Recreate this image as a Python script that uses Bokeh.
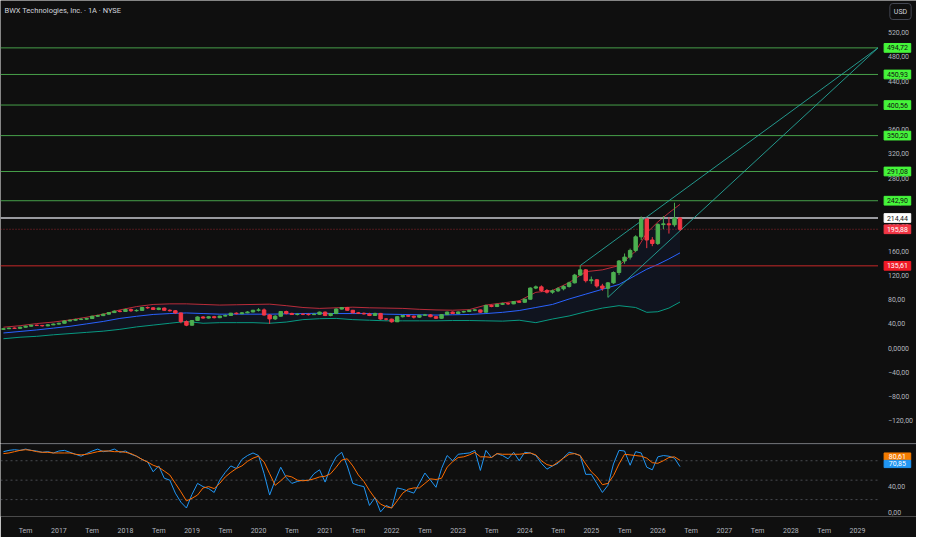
from bokeh.plotting import figure
from bokeh.layouts import column
from bokeh.models import Range1d, FixedTicker, Label, ColumnDataSource
from bokeh.core.properties import value
from bokeh.embed import file_html
from bokeh.resources import INLINE

# ---------------- data (month index: 0 = Jan 2016) ----------------
months = list(range(2, 125))  # Mar 2016 .. May 2026 monthly candles

opens = [31.0, 32.0, 33.0, 32.6, 34.5, 36.2, 37.8, 37.4, 36.8, 38.4,
         39.6, 41.0, 44.8, 46.0, 47.2, 47.8, 48.8, 52.6, 53.6, 56.0, 58.6, 61.0,
         60.4, 63.6, 61.6, 62.2, 67.0, 66.4, 63.8, 66.0, 62.4, 61.6, 58.0, 43.8,
         37.8, 45.6, 51.4, 49.6, 51.8, 50.2, 52.8, 53.8, 57.6, 56.8, 58.2, 59.6,
         62.4, 63.0, 54.6, 48.2, 52.6, 60.4, 57.2, 55.4, 56.0, 55.8, 55.2, 55.8,
         59.4, 53.8, 57.0, 64.4, 66.8, 62.4, 58.2, 57.4, 56.4, 53.8, 57.2, 48.0,
         47.8, 43.4, 51.8, 53.8, 52.6, 51.0, 54.2, 54.8, 51.8, 49.2, 55.2, 59.4,
         57.0, 59.6, 60.4, 62.4, 63.0, 59.2, 70.4, 68.6, 72.2, 73.4, 73.0, 76.8,
         75.6, 80.6, 99.0, 101.0, 95.0, 92.2, 94.4, 97.8, 101.6, 107.6, 120.4, 129.0,
         111.2, 112.6, 102.4, 98.6, 107.6, 124.6, 143.6, 150.0, 161.0, 183.4, 212.8, 178.2,
         172.4, 203.6, 204.8, 203.2, 214.4]
highs = [32.6, 33.8, 34.0, 35.2, 37.0, 38.5, 38.8, 38.2, 39.6, 40.6,
         42.0, 45.6, 47.2, 48.4, 49.6, 50.2, 53.4, 55.0, 57.0, 59.4, 62.2, 62.8,
         65.0, 65.4, 64.0, 68.0, 68.6, 67.6, 66.8, 67.0, 64.0, 62.8, 58.6, 45.6,
         46.4, 52.4, 52.8, 52.6, 53.2, 53.4, 55.6, 58.2, 59.0, 59.6, 61.0, 63.2,
         66.0, 65.4, 56.2, 54.4, 61.2, 61.8, 58.4, 57.4, 57.6, 57.2, 58.0, 60.2,
         60.4, 58.0, 65.6, 67.8, 68.0, 63.0, 59.6, 58.8, 58.2, 58.4, 58.0, 49.6,
         48.6, 52.6, 54.6, 55.0, 53.6, 55.0, 56.4, 56.2, 53.0, 56.0, 60.2, 60.4,
         60.6, 61.6, 63.0, 64.4, 63.6, 71.6, 71.8, 73.2, 75.0, 75.2, 77.6, 78.4,
         81.4, 100.2, 103.2, 103.4, 97.4, 96.6, 100.4, 103.6, 109.6, 122.4, 136.0, 130.4,
         118.0, 114.0, 106.0, 109.0, 126.4, 145.0, 156.0, 164.0, 186.0, 217.0, 214.6, 183.0,
         206.0, 217.6, 216.0, 239.6, 216.0]
lows = [30.2, 31.4, 31.8, 32.0, 34.0, 35.8, 36.4, 35.6, 36.0, 38.0,
        39.0, 40.6, 44.2, 45.2, 46.2, 47.0, 48.2, 51.6, 52.8, 55.2, 58.0, 59.0,
        59.8, 59.6, 60.2, 61.4, 64.8, 62.8, 62.6, 61.6, 60.4, 56.4, 41.0, 36.2,
        37.0, 45.0, 48.6, 48.8, 49.0, 49.4, 52.0, 53.0, 55.4, 55.8, 57.6, 59.0,
        60.4, 53.6, 40.0, 46.4, 51.8, 55.6, 54.6, 54.0, 54.4, 53.8, 54.6, 55.0,
        52.8, 52.4, 56.4, 63.6, 61.6, 57.0, 56.2, 55.2, 52.8, 53.0, 46.8, 45.6,
        42.0, 43.0, 50.4, 51.4, 48.8, 50.0, 53.0, 51.0, 48.2, 48.6, 54.6, 56.2,
        56.4, 58.4, 59.4, 60.8, 58.0, 58.6, 67.4, 67.6, 71.0, 71.2, 72.4, 74.6,
        75.0, 80.0, 97.2, 92.6, 90.0, 89.6, 92.4, 95.2, 99.8, 106.6, 119.4, 108.2,
        106.0, 99.6, 94.6, 83.6, 106.0, 120.4, 139.0, 146.0, 158.0, 178.0, 164.8, 168.0,
        170.0, 196.0, 188.8, 200.0, 193.0]
closes = [32.0, 33.0, 32.6, 34.5, 36.2, 37.8, 37.4, 36.8, 38.4, 39.6,
          41.0, 44.8, 46.0, 47.2, 47.8, 48.8, 52.6, 53.6, 56.0, 58.6, 61.0, 60.4,
          63.6, 61.6, 62.2, 67.0, 66.4, 63.8, 66.0, 62.4, 61.6, 58.0, 43.8, 37.8,
          45.6, 51.4, 49.6, 51.8, 50.2, 52.8, 53.8, 57.6, 56.8, 58.2, 59.6, 62.4,
          63.0, 54.6, 48.2, 52.6, 60.4, 57.2, 55.4, 56.0, 55.8, 55.2, 55.8, 59.4,
          53.8, 57.0, 64.4, 66.8, 62.4, 58.2, 57.4, 56.4, 53.8, 57.2, 48.0, 47.8,
          43.4, 51.8, 53.8, 52.6, 51.0, 54.2, 54.8, 51.8, 49.2, 55.2, 59.4, 57.0,
          59.6, 60.4, 62.4, 63.0, 59.2, 70.4, 68.6, 72.2, 73.4, 73.0, 76.8, 75.6,
          80.6, 99.0, 101.0, 95.0, 92.2, 94.4, 97.8, 101.6, 107.6, 120.4, 129.0, 111.2,
          112.6, 102.4, 98.6, 107.6, 124.6, 143.6, 150.0, 161.0, 183.4, 212.8, 178.2, 172.4,
          203.6, 204.8, 203.2, 214.4, 195.88]

# Bollinger bands (read at quarterly points)
band_x = [2, 5, 8, 11, 14, 17, 20, 23, 26, 29, 32, 35, 38, 41, 44, 47, 50, 53, 56, 59,
          62, 65, 68, 71, 74, 77, 80, 83, 86, 89, 92, 95, 98, 101, 104, 107, 110, 113,
          116, 118, 120, 122, 124]
band_upper = [34.5, 37, 40.5, 43, 46.5, 51, 56, 63, 68.5, 72, 73, 73, 72, 71, 71.5, 72, 72.5, 70, 67, 65.5,
              66.5, 67.5, 66.5, 66, 65.5, 64, 63, 62.5, 63.5, 71, 74.5, 78, 92, 95, 108, 126, 129, 136,
              160, 190, 208, 223, 237]
band_basis = [25, 27.5, 30, 33, 36, 40, 44, 49, 52.5, 55.5, 57, 58, 57, 56, 56, 56, 56, 56.5, 57, 57.5,
              57, 57, 57, 56, 55.5, 55, 54.5, 55, 55.5, 57, 59, 62, 67, 72, 81, 89, 97, 105,
              120, 130, 138, 147, 157]
band_lower = [15.5, 18, 19.5, 22, 24, 26, 28, 31, 35, 38, 41, 44, 41, 42, 42, 42, 41, 43, 47, 48.5,
              49, 47, 46, 45, 45, 45, 45, 45.5, 45.5, 45, 44.5, 46, 42, 48, 53, 60, 66, 70,
              67, 59, 60, 66, 76]

# Stochastic RSI
stoch_k = [94, 96, 97, 96, 98, 96, 95, 93, 94, 92,
           95, 96, 93, 90, 87, 91, 95, 98, 94, 95, 98, 93,
           95, 90, 87, 82, 78, 63, 72, 53, 50, 30, 16, 7,
           28, 45, 40, 37, 31, 50, 62, 72, 68, 82, 88, 92,
           88, 60, 27, 50, 70, 54, 45, 48, 50, 49, 60, 66,
           47, 70, 86, 93, 72, 45, 42, 40, 11, 23, 1, 11,
           7, 38, 36, 33, 30, 45, 61, 50, 39, 68, 88, 80,
           90, 91, 92, 96, 65, 96, 85, 91, 88, 83, 93, 80,
           93, 92, 88, 76, 67, 72, 76, 85, 93, 91, 88, 59,
           59, 45, 31, 42, 75, 96, 95, 73, 94, 92, 70, 66,
           86, 88, 87, 84, 70.85]
stoch_d = [91, 92, 94, 96, 97, 96, 94, 93, 93, 92,
           92, 92, 92, 90, 89, 90, 92, 94, 95, 95, 94, 94,
           93, 91, 87, 82, 78, 73, 70, 64, 58, 45, 32, 18,
           22, 27, 38, 40, 37, 45, 55, 62, 68, 72, 79, 84,
           87, 78, 60, 42, 49, 57, 55, 50, 49, 50, 52, 55,
           56, 60, 70, 81, 83, 72, 58, 48, 34, 22, 13, 9,
           7, 18, 30, 36, 38, 38, 45, 52, 51, 53, 70, 78.5,
           85, 86, 89, 93, 86, 86, 85, 91, 90, 90, 90, 90,
           91, 92, 89, 80, 74, 72, 78, 84, 90, 91, 88, 75,
           63, 55, 43, 45, 57, 75, 90, 89, 88, 87, 84, 77,
           76, 80, 85, 86, 80.61]

# drawn levels and channel
green_levels = [494.72, 450.93, 400.56, 350.20, 291.08, 242.90]
white_level = 214.44
last_price = 195.88
red_level = 135.61
channel_x0 = [106, 111]
channel_y0 = [136.0, 83.6]
channel_x1 = [159.7, 159.7]
channel_y1 = [494.72, 494.72]

price_ticks = [-120, -80, -40, 0, 40, 80, 120, 160, 200, 240, 280, 320, 360, 400, 440, 480, 520]
price_tick_labels = ["\u2212120,00", "\u221280,00", "\u221240,00", "0,0000", "40,00", "80,00", "120,00",
                     "160,00", "200,00", "240,00", "280,00", "320,00", "360,00", "400,00", "440,00",
                     "480,00", "520,00"]
date_ticks = [6, 12, 18, 24, 30, 36, 42, 48, 54, 60, 66, 72, 78, 84, 90, 96, 102, 108, 114, 120,
              126, 132, 138, 144, 150, 156]
date_tick_labels = ["Tem", "2017", "Tem", "2018", "Tem", "2019", "Tem", "2020", "Tem", "2021", "Tem",
                    "2022", "Tem", "2023", "Tem", "2024", "Tem", "2025", "Tem", "2026", "Tem", "2027",
                    "Tem", "2028", "Tem", "2029"]
osc_ticks = [0, 40]
osc_tick_labels = ["0,00", "40,00"]
osc_levels = [80, 50, 20]

# ---------------- style / geometry ----------------
BG = "#0f0f0f"
TXT = "#b2b5be"
UP = "#4caf50"
DN = "#f23645"
FONT = "Roboto"
FW = 916
MAIN_H = 443
OSC_H = 73
X0, X1 = 1.47, 166.64        # visible month span (price scale area on the right)
X_SCALE_EDGE = 159.7         # start of price scale column
X_LABEL = 161.5              # left edge of scale labels
X_TAG = 163.2                # centre of value tags
TAG_W = 4.8


def style(fig):
    fig.background_fill_color = BG
    fig.border_fill_color = BG
    fig.outline_line_color = None
    fig.xgrid.grid_line_color = None
    fig.ygrid.grid_line_color = None


x_range = Range1d(X0, X1)

p = figure(frame_width=FW, frame_height=MAIN_H, x_range=x_range, y_range=Range1d(-157.1, 572.8),
           x_axis_location=None, y_axis_location=None, toolbar_location=None,
           output_backend="svg", min_border_left=0, min_border_right=0,
           min_border_top=0, min_border_bottom=0)
style(p)

# price scale labels
p.text(x=[X_LABEL] * len(price_ticks), y=price_ticks, text=price_tick_labels,
       text_font=value(FONT), text_font_size=value("7px"), text_color=TXT,
       text_align="left", text_baseline="middle")

# Bollinger fill and lines
p.varea(x=band_x, y1=band_lower, y2=band_upper, fill_color="#2962ff", fill_alpha=0.07)
p.line(band_x, band_upper, line_color="#f23645", line_alpha=0.75, line_width=1)
p.line(band_x, band_basis, line_color="#2962ff", line_width=1)
p.line(band_x, band_lower, line_color="#089981", line_width=1)

# levels
n_g = len(green_levels)
p.segment(x0=[X0] * n_g, x1=[X_SCALE_EDGE] * n_g, y0=green_levels, y1=green_levels,
          line_color="#4caf50", line_width=1, line_alpha=0.9)
p.segment(x0=[X0], x1=[X_SCALE_EDGE], y0=[red_level], y1=[red_level],
          line_color="#c62828", line_width=1)
p.segment(x0=[X0], x1=[X_SCALE_EDGE], y0=[white_level], y1=[white_level],
          line_color="#c8cad0", line_width=1.6)
p.segment(x0=[X0], x1=[X_SCALE_EDGE], y0=[last_price], y1=[last_price],
          line_color="#f23645", line_width=1, line_alpha=0.6, line_dash="1 2")

# channel
p.segment(x0=channel_x0, y0=channel_y0, x1=channel_x1, y1=channel_y1,
          line_color="#26a69a", line_width=1, line_alpha=0.9)

# candles
colors = [UP if c >= o else DN for o, c in zip(opens, closes)]
src = ColumnDataSource(dict(x=months, o=opens, h=highs, l=lows, c=closes,
                            top=[max(o, c) for o, c in zip(opens, closes)],
                            bot=[min(o, c) for o, c in zip(opens, closes)], col=colors))
p.segment(x0="x", y0="h", x1="x", y1="l", line_color="col", line_width=1, source=src)
p.vbar(x="x", width=0.62, top="top", bottom="bot", fill_color="col", line_color="col", source=src)

# value tags on the price scale
tag_vals = green_levels + [white_level, last_price, red_level]
tag_bg = ["#45f53a"] * n_g + ["#ffffff", "#f23645", "#f01b27"]
tag_fg = ["#0f0f0f"] * n_g + ["#0f0f0f", "#ffffff", "#ffffff"]
tsrc = ColumnDataSource(dict(x=[X_TAG] * len(tag_vals), y=tag_vals,
                             t=[f"{v:.2f}".replace(".", ",") for v in tag_vals],
                             bg=tag_bg, fg=tag_fg))
p.rect(x="x", y="y", width=TAG_W, height=14.4, fill_color="bg", line_color="bg", source=tsrc)
p.text(x="x", y="y", text="t", text_color="fg", text_font=value(FONT), text_font_size=value("7px"),
       text_align="center", text_baseline="middle", source=tsrc)

# title and USD box
p.add_layout(Label(x=4, y=MAIN_H - 10, x_units="screen", y_units="screen",
                   text="BWX Technologies, Inc. \u00b7 1A \u00b7 NYSE", text_color="#d1d4dc",
                   text_font=FONT, text_font_size="7.5px", text_baseline="middle"))
p.add_layout(Label(x=900, y=MAIN_H - 11, x_units="screen", y_units="screen", text="USD",
                   text_color="#d1d4dc", text_font=FONT, text_font_size="7px",
                   text_align="center", text_baseline="middle", background_fill_color=BG,
                   border_line_color="#434651", border_radius=3, padding=4))

# ---------------- oscillator ----------------
q = figure(frame_width=FW, frame_height=OSC_H, x_range=x_range, y_range=Range1d(-6.1, 106.6),
           y_axis_location=None, toolbar_location=None, output_backend="svg",
           min_border_left=0, min_border_right=0, min_border_top=0, min_border_bottom=18)
style(q)
ax = q.xaxis[0]
ax.axis_line_color = None
ax.major_tick_line_color = None
ax.minor_tick_line_color = None
ax.major_label_text_color = TXT
ax.major_label_text_font = FONT
ax.major_label_text_font_size = "7px"
ax.major_label_standoff = 4
ax.ticker = FixedTicker(ticks=date_ticks)
ax.major_label_overrides = {t: l for t, l in zip(date_ticks, date_tick_labels)}

q.segment(x0=[X0], x1=[X1], y0=[106.0], y1=[106.0], line_color="#2a2e39", line_width=1)
n_o = len(osc_levels)
q.segment(x0=[X0] * n_o, x1=[X_SCALE_EDGE] * n_o, y0=osc_levels, y1=osc_levels,
          line_color="#787b86", line_alpha=0.55, line_width=1, line_dash="2 3")
q.line(months, stoch_k, line_color="#2196f3", line_width=1)
q.line(months, stoch_d, line_color="#ff6d00", line_width=1)

q.text(x=[X_LABEL] * len(osc_ticks), y=osc_ticks, text=osc_tick_labels,
       text_font=value(FONT), text_font_size=value("7px"), text_color=TXT,
       text_align="left", text_baseline="middle")

osc_tag_vals = [stoch_d[-1], stoch_k[-1]]
osc_tag_pos = [86.4, 75.0]
osrc = ColumnDataSource(dict(x=[X_TAG] * 2, y=osc_tag_pos,
                             t=[f"{v:.2f}".replace(".", ",") for v in osc_tag_vals],
                             bg=["#f57c00", "#2196f3"]))
q.rect(x="x", y="y", width=TAG_W, height=11.2, fill_color="bg", line_color="bg", source=osrc)
q.text(x="x", y="y", text="t", text_color="#ffffff", text_font=value(FONT),
       text_font_size=value("7px"), text_align="center", text_baseline="middle", source=osrc)

layout = column(p, q, spacing=0)
open("out.html", "w").write(file_html(layout, INLINE))
